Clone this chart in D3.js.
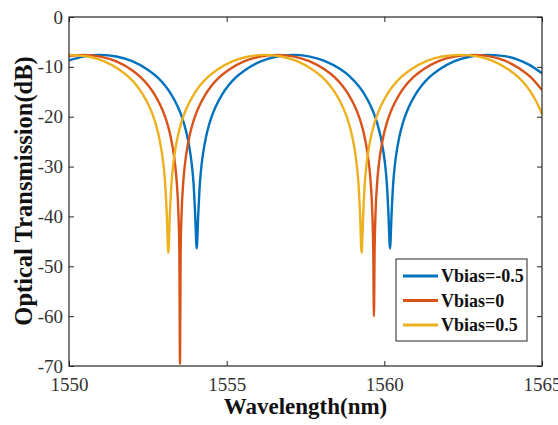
<!DOCTYPE html>
<html>
<head>
<meta charset="utf-8">
<script src="https://cdn.jsdelivr.net/npm/d3@7"></script>
<style>
  body { margin: 0; background: #fff; }
  .axis text { font-family: "Liberation Serif", "Times New Roman", serif; font-size: 19px; fill: #333; }
  .axis line { stroke: #262626; stroke-width: 1; }
  .axis path { display: none; }
  .label { font-family: "Liberation Serif", "Times New Roman", serif; font-weight: bold; fill: #111; }
</style>
</head>
<body>
<script>
// tick values
var wavelengthTicks = [1550, 1555, 1560, 1565];
var transmissionTicks = [0, -10, -20, -30, -40, -50, -60, -70];

// legend names and colours (matlab default order)
var seriesNames = ["Vbias=-0.5", "Vbias=0", "Vbias=0.5"];
var seriesColours = ["#0072BD", "#D95319", "#EDB120"];

// [wavelength (nm), transmission (dB)]
var vbiasNeg05 = [
  [1550.0, -8.7], [1550.5, -7.89], [1551.0, -7.6], [1551.5, -7.92], [1552.0, -8.85],
  [1552.5, -10.57], [1552.8, -12.08], [1553.05, -13.8], [1553.25, -15.6], [1553.45, -17.99],
  [1553.55, -19.53], [1553.65, -21.44], [1553.75, -23.91], [1553.85, -27.42], [1553.9, -29.91],
  [1553.95, -33.42], [1554.0, -39.44], [1554.05, -46.4], [1554.1, -39.44], [1554.15, -33.42],
  [1554.2, -29.91], [1554.25, -27.42], [1554.35, -23.91], [1554.45, -21.44], [1554.55, -19.53],
  [1554.65, -17.99], [1554.85, -15.6], [1555.05, -13.8], [1555.3, -12.08], [1555.6, -10.57],
  [1556.1, -8.85], [1556.6, -7.92], [1557.1, -7.6], [1557.6, -7.89], [1558.1, -8.78],
  [1558.6, -10.45], [1558.9, -11.9], [1559.18, -13.8], [1559.38, -15.6], [1559.58, -17.99],
  [1559.68, -19.53], [1559.78, -21.44], [1559.88, -23.91], [1559.98, -27.42], [1560.03, -29.91],
  [1560.08, -33.42], [1560.13, -39.44], [1560.18, -46.4], [1560.23, -39.44], [1560.28, -33.42],
  [1560.33, -29.91], [1560.38, -27.42], [1560.48, -23.91], [1560.58, -21.44], [1560.68, -19.53],
  [1560.78, -17.99], [1560.98, -15.6], [1561.18, -13.8], [1561.43, -12.08], [1561.73, -10.57],
  [1562.23, -8.85], [1562.73, -7.92], [1563.25, -7.6], [1563.75, -7.8], [1564.25, -8.6],
  [1564.6, -9.6], [1565.0, -11.3]
];

var vbias0 = [
  [1550.0, -7.86], [1550.45, -7.6], [1551.0, -7.95], [1551.5, -8.92], [1552.0, -10.68],
  [1552.27, -12.08], [1552.52, -13.8], [1552.72, -15.6], [1552.92, -17.99], [1553.02, -19.53],
  [1553.12, -21.44], [1553.22, -23.91], [1553.32, -27.42], [1553.37, -29.91], [1553.42, -33.42],
  [1553.47, -39.44], [1553.5, -47.4], [1553.52, -69.5], [1553.54, -47.4], [1553.57, -39.44],
  [1553.62, -33.42], [1553.67, -29.91], [1553.72, -27.42], [1553.82, -23.91], [1553.92, -21.44],
  [1554.02, -19.53], [1554.12, -17.99], [1554.32, -15.6], [1554.52, -13.8], [1554.77, -12.08],
  [1555.07, -10.57], [1555.57, -8.85], [1556.07, -7.92], [1556.6, -7.6], [1557.1, -7.9],
  [1557.6, -8.8], [1558.1, -10.5], [1558.42, -12.08], [1558.67, -13.8], [1558.87, -15.6],
  [1559.07, -17.99], [1559.17, -19.53], [1559.27, -21.44], [1559.37, -23.91], [1559.47, -27.42],
  [1559.52, -29.91], [1559.57, -33.42], [1559.62, -39.44], [1559.65, -47.4], [1559.67, -60.0],
  [1559.69, -47.4], [1559.72, -39.44], [1559.77, -33.42], [1559.82, -29.91], [1559.87, -27.42],
  [1559.97, -23.91], [1560.07, -21.44], [1560.17, -19.53], [1560.27, -17.99], [1560.47, -15.6],
  [1560.67, -13.8], [1560.92, -12.08], [1561.22, -10.57], [1561.72, -8.85], [1562.22, -7.92],
  [1562.8, -7.6], [1563.3, -7.85], [1563.8, -8.7], [1564.3, -10.4], [1564.65, -12.1],
  [1565.0, -14.65]
];

var vbiasPos05 = [
  [1550.0, -7.62], [1550.6, -7.92], [1551.1, -8.85], [1551.6, -10.57], [1551.9, -12.08],
  [1552.15, -13.8], [1552.35, -15.6], [1552.55, -17.99], [1552.65, -19.53], [1552.75, -21.44],
  [1552.85, -23.91], [1552.95, -27.42], [1553.0, -29.91], [1553.05, -33.42], [1553.1, -39.44],
  [1553.15, -47.3], [1553.2, -39.44], [1553.25, -33.42], [1553.3, -29.91], [1553.35, -27.42],
  [1553.45, -23.91], [1553.55, -21.44], [1553.65, -19.53], [1553.75, -17.99], [1553.95, -15.6],
  [1554.15, -13.8], [1554.4, -12.08], [1554.7, -10.57], [1555.2, -8.85], [1555.7, -7.92],
  [1556.22, -7.6], [1556.73, -7.92], [1557.23, -8.85], [1557.73, -10.57], [1558.03, -12.08],
  [1558.28, -13.8], [1558.48, -15.6], [1558.68, -17.99], [1558.78, -19.53], [1558.88, -21.44],
  [1558.98, -23.91], [1559.08, -27.42], [1559.13, -29.91], [1559.18, -33.42], [1559.23, -39.44],
  [1559.28, -47.3], [1559.33, -39.44], [1559.38, -33.42], [1559.43, -29.91], [1559.48, -27.42],
  [1559.58, -23.91], [1559.68, -21.44], [1559.78, -19.53], [1559.88, -17.99], [1560.08, -15.6],
  [1560.28, -13.8], [1560.53, -12.08], [1560.83, -10.57], [1561.33, -8.85], [1561.83, -7.92],
  [1562.4, -7.6], [1562.9, -7.85], [1563.4, -8.7], [1563.9, -10.4], [1564.25, -12.08],
  [1564.5, -13.8], [1564.7, -15.6], [1564.9, -17.99], [1565.0, -19.53]
];


class Spectrum_D3 {
  constructor(width, height, margin) {
    this.margin = margin;
    this.width = width - margin.left - margin.right;
    this.height = height - margin.top - margin.bottom;

    this.x = d3.scaleLinear().domain([1550, 1565]).range([0, this.width]);
    this.y = d3.scaleLinear().domain([-70, 0]).range([this.height, 0]);

    this.svg = d3.select("body")
      .append("svg")
        .attr("width", width)
        .attr("height", height);

    this.canvas = this.svg
      .append("g")
        .attr("transform", "translate(" + margin.left + "," + margin.top + ")");
  };

  // ticks point inwards on all four sides, labels only bottom and left
  // plain hyphen for negatives, like the matlab original
  getXAxis(path, obj) {
    path
      .attr("transform", "translate(0," + obj.height + ")")
      .call(d3.axisBottom(obj.x).tickValues(wavelengthTicks)
        .tickSizeInner(-5).tickSizeOuter(0).tickPadding(12).tickFormat(String));
  };
  getYAxis(path, obj) {
    path
      .call(d3.axisLeft(obj.y).tickValues(transmissionTicks)
        .tickSizeInner(-5).tickSizeOuter(0).tickPadding(6).tickFormat(String));
  };
  getTopAxis(path, obj) {
    path.call(d3.axisTop(obj.x).tickValues(wavelengthTicks).tickSizeInner(-5).tickSizeOuter(0).tickFormat(""));
  };
  getRightAxis(path, obj) {
    path
      .attr("transform", "translate(" + obj.width + ",0)")
      .call(d3.axisRight(obj.y).tickValues(transmissionTicks).tickSizeInner(-5).tickSizeOuter(0).tickFormat(""));
  };

  plot(allSeries) {
    var obj = this;

    this.canvas.append("clipPath")
        .attr("id", "plotClip")
      .append("rect")
        .attr("width", this.width)
        .attr("height", this.height);

    var line = d3.line()
      .x(function(d) { return obj.x(d[0]); })
      .y(function(d) { return obj.y(d[1]); })
      .curve(d3.curveMonotoneX);

    this.canvas.append("g")
        .attr("clip-path", "url(#plotClip)")
      .selectAll("path.curve")
      .data(allSeries)
      .enter()
      .append("path")
        .attr("class", "curve")
        .attr("d", line)
        .attr("fill", "none")
        .attr("stroke", function(d, i) { return seriesColours[i]; })
        .attr("stroke-width", 2.4)
        .attr("stroke-linejoin", "round");

    // add the axes
    this.canvas.append("g").attr("class", "x axis").call(this.getXAxis, this);
    this.canvas.append("g").attr("class", "y axis").call(this.getYAxis, this);
    this.canvas.append("g").attr("class", "axis").call(this.getTopAxis, this);
    this.canvas.append("g").attr("class", "axis").call(this.getRightAxis, this);

    // box
    this.canvas.append("rect")
        .attr("width", this.width)
        .attr("height", this.height)
        .attr("fill", "none")
        .attr("stroke", "#262626")
        .attr("stroke-width", 1.2);

    // axis titles
    this.svg.append("text")
        .attr("class", "label")
        .attr("x", this.margin.left + this.width / 2)
        .attr("y", 414)
        .attr("text-anchor", "middle")
        .attr("font-size", 23)
        .text("Wavelength(nm)");

    this.svg.append("text")
        .attr("class", "label")
        .attr("transform", "translate(32," + (this.margin.top + 174) + ") rotate(-90)")
        .attr("text-anchor", "middle")
        .attr("font-size", 24.5)
        .text("Optical Transmission(dB)");

    this.makeLegend();
  };

  makeLegend() {
    var legend = this.canvas.append("g")
      .attr("transform", "translate(" + (this.width - 146) + "," + (this.height - 107) + ")");

    legend.append("rect")
        .attr("width", 131)
        .attr("height", 82)
        .attr("fill", "#fff")
        .attr("stroke", "#262626")
        .attr("stroke-width", 1);

    var rows = legend.selectAll("g.row")
      .data(seriesNames)
      .enter()
      .append("g")
        .attr("class", "row")
        .attr("transform", function(d, i) { return "translate(0," + (17 + i * 24.5) + ")"; });

    rows.append("line")
        .attr("x1", 7).attr("x2", 42)
        .attr("stroke", function(d, i) { return seriesColours[i]; })
        .attr("stroke-width", 3);

    rows.append("text")
        .attr("class", "label")
        .attr("x", 45)
        .attr("y", 6)
        .attr("font-size", 18)
        .text(function(d) { return d; });
  };
};

var chart = new Spectrum_D3(558, 425, {top: 17, right: 16, bottom: 59, left: 69});
chart.plot([vbiasNeg05, vbias0, vbiasPos05]);
</script>
</body>
</html>
